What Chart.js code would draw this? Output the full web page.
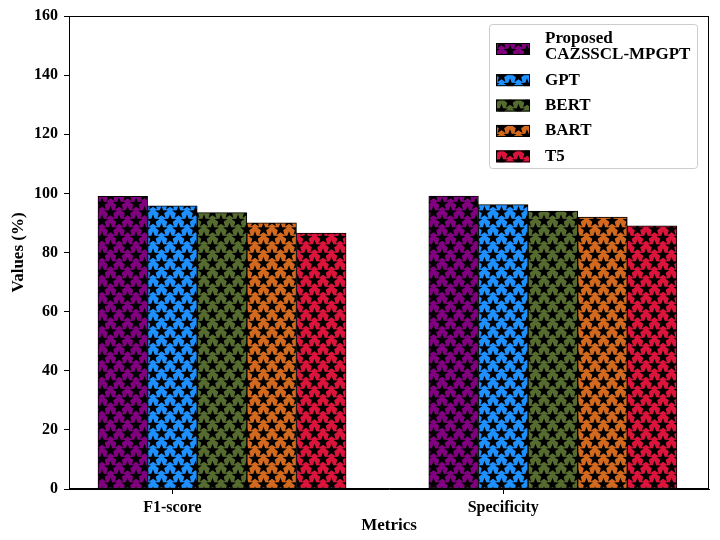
<!DOCTYPE html>
<html>
<head>
<meta charset="utf-8">
<script src="https://cdn.jsdelivr.net/npm/chart.js@4.4.1/dist/chart.umd.min.js"></script>
<style>
  body { margin: 0; background: #fff; }
  canvas { display: block; }
</style>
</head>
<body>
<canvas id="grafica" width="720" height="540"></canvas>
<script>
// datos
const categorias = ["F1-score", "Specificity"];
const modelos = [["Proposed", "CAZSSCL-MPGPT"], "GPT", "BERT", "BART", "T5"];
const proposed = [99.0, 99.1];
const gpt = [95.8, 96.2];
const bert = [93.5, 94.0];
const bart = [90.0, 92.0];
const t5 = [86.6, 89.0];
const yTicks = [0, 20, 40, 60, 80, 100, 120, 140, 160];

const series = [proposed, gpt, bert, bart, t5];
const colores = ["#800080", "#1E90FF", "#556B2F", "#D2691E", "#DC143C"];
const ancho = 0.15; // ancho de barra en unidades del eje x

const fuente = "Liberation Serif";

// relleno con estrellas (hatch '*')
function trazarEstrella(ctx, cx, cy, R, r) {
  ctx.beginPath();
  for (let k = 0; k < 10; k++) {
    const a = -Math.PI / 2 + k * Math.PI / 5;
    const rad = k % 2 ? r : R;
    const px = cx + rad * Math.cos(a);
    const py = cy + rad * Math.sin(a);
    if (k === 0) ctx.moveTo(px, py); else ctx.lineTo(px, py);
  }
  ctx.closePath();
  ctx.fill();
}

function crearPatron(color) {
  const W = 17, H = 17;
  const tile = document.createElement("canvas");
  tile.width = W;
  tile.height = H;
  const c = tile.getContext("2d");
  c.fillStyle = color;
  c.fillRect(0, 0, W, H);
  c.fillStyle = "#000";
  const puntos = [[0, 0], [W, 0], [0, H], [W, H], [W / 2, H / 2]];
  puntos.forEach(p => trazarEstrella(c, p[0], p[1], 6.8, 2.8));
  return c.createPattern(tile, "repeat");
}

const patrones = colores.map(crearPatron);

const datasets = series.map((valores, i) => ({
  label: modelos[i],
  data: valores.map((v, g) => ({ x: g + i * ancho, y: v })),
  backgroundColor: patrones[i],
  borderColor: "#000",
  borderWidth: 1,
  borderSkipped: false,
  grouped: false,
  categoryPercentage: 1,
  barPercentage: 1
}));

// marco completo y leyenda dentro del area
const marcoYLeyenda = {
  id: "marcoYLeyenda",
  afterDraw(chart) {
    const ctx = chart.ctx;
    const area = chart.chartArea;
    ctx.save();
    ctx.strokeStyle = "#000";
    ctx.lineWidth = 1;
    ctx.strokeRect(area.left + 0.5, area.top + 0.5, area.right - area.left - 1, area.bottom - area.top - 1);

    // leyenda
    const x0 = area.right - 220;
    const y0 = area.top + 8;
    const w = 208;
    const h = 144;
    ctx.fillStyle = "rgba(255,255,255,0.85)";
    ctx.strokeStyle = "#cccccc";
    ctx.beginPath();
    ctx.roundRect(x0 + 0.5, y0 + 0.5, w, h, 3);
    ctx.fill();
    ctx.stroke();

    ctx.font = "bold 17px '" + fuente + "'";
    ctx.textBaseline = "middle";
    ctx.textAlign = "left";
    const lineaAlto = 16.5;
    let y = y0 + 6;
    chart.data.datasets.forEach((ds, i) => {
      const lineas = Array.isArray(ds.label) ? ds.label : [ds.label];
      const altoTexto = lineas.length * lineaAlto;
      const cy = y + altoTexto / 2;
      const swY = lineas.length > 1 ? cy + 2.5 : cy;
      ctx.fillStyle = ds.backgroundColor;
      ctx.fillRect(x0 + 7, swY - 6, 34, 12);
      ctx.strokeStyle = "#000";
      ctx.strokeRect(x0 + 7.5, swY - 5.5, 33, 11);
      ctx.fillStyle = "#000";
      lineas.forEach((t, k) => {
        ctx.fillText(t, x0 + 56, y + lineaAlto * k + lineaAlto / 2);
      });
      y += altoTexto + 8.9;
    });
    ctx.restore();
  }
};

new Chart(document.getElementById("grafica"), {
  type: "bar",
  data: { datasets },
  options: {
    responsive: false,
    animation: false,
    devicePixelRatio: 1,
    layout: { padding: { top: 16, right: 11, left: 0, bottom: 0 } },
    plugins: {
      legend: { display: false },
      tooltip: { enabled: false }
    },
    scales: {
      x: {
        type: "linear",
        min: -0.1626,
        max: 1.772,
        offset: false,
        afterBuildTicks: axis => {
          axis.ticks = categorias.map((c, g) => ({ value: g + ancho }));
        },
        afterFit: axis => { axis.height = 51; },
        ticks: {
          callback: (v, i) => categorias[i],
          color: "#000",
          font: { family: fuente, size: 16, weight: "bold" },
          padding: 4,
          maxRotation: 0,
          autoSkip: false
        },
        grid: { offset: false, drawOnChartArea: false, drawTicks: true, tickLength: 5, tickColor: "#000" },
        border: { color: "#000" },
        title: {
          display: true,
          text: "Metrics",
          color: "#000",
          font: { family: fuente, size: 17, weight: "bold" },
          padding: { top: 0, bottom: 4 }
        }
      },
      y: {
        min: 0,
        max: 160,
        afterBuildTicks: axis => {
          axis.ticks = yTicks.map(v => ({ value: v }));
        },
        afterFit: axis => { axis.width = 69; },
        ticks: {
          color: "#000",
          font: { family: fuente, size: 16, weight: "bold" },
          padding: 6
        },
        grid: { drawOnChartArea: false, drawTicks: true, tickLength: 5, tickColor: "#000" },
        border: { color: "#000" },
        title: {
          display: true,
          text: "Values (%)",
          color: "#000",
          font: { family: fuente, size: 17, weight: "bold" },
          padding: { top: 8, bottom: 0 }
        }
      }
    }
  },
  plugins: [marcoYLeyenda]
});
</script>
</body>
</html>
